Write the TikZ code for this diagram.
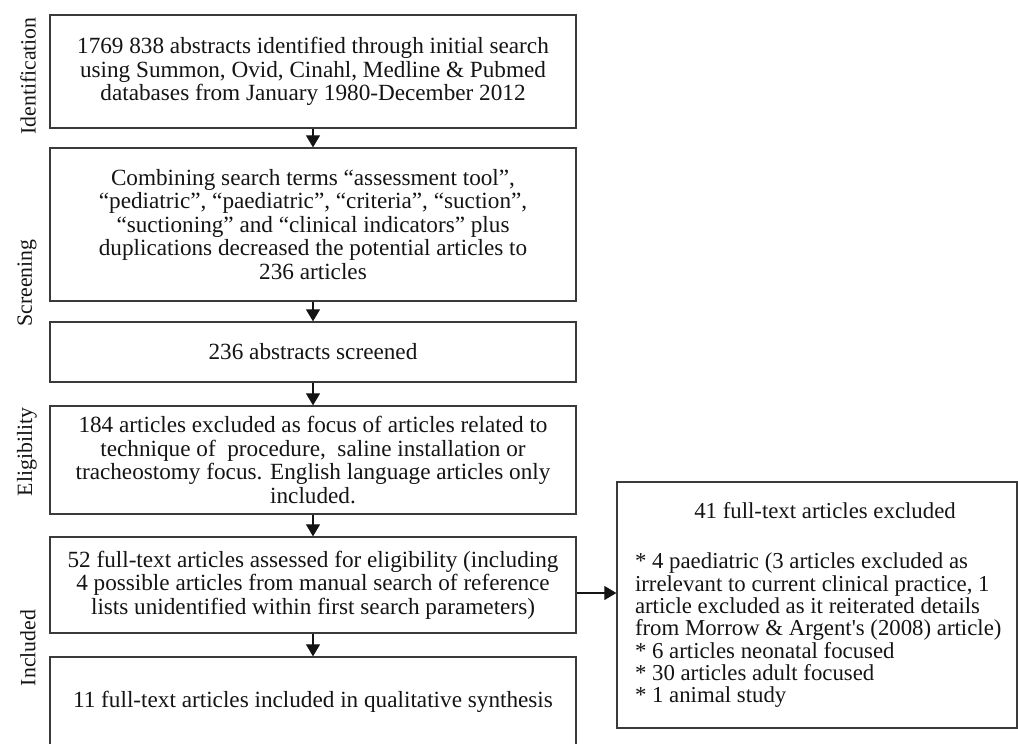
\documentclass[tikz,border=0pt]{standalone}
\usepackage{fontspec}
\setmainfont{Liberation Serif}
\usetikzlibrary{arrows.meta}
\definecolor{edge}{HTML}{3A3A3A}
\definecolor{ink}{HTML}{141414}
\begin{document}
\begin{tikzpicture}[x=1pt,y=-1pt,
  every node/.style={text=ink},
  flowbox/.style={draw=edge, line width=1.3pt, rectangle, minimum width=526pt,
    inner sep=0pt, align=center, font=\fontsize{23.2}{23.5}\selectfont},
  sidebox/.style={draw=edge, line width=1.3pt, rectangle, minimum width=400pt,
    minimum height=246pt, inner sep=0pt, font=\fontsize{22.8}{22.3}\selectfont},
  phase/.style={rotate=90, font=\fontsize{21.8}{22}\selectfont},
  arr/.style={draw=ink, line width=1.1pt, -{Triangle[width=14pt,length=12pt]}}]
\useasboundingbox (0,0) rectangle (1018,744);

% main column of stages
\node[flowbox, minimum height=113pt] (b1) at (313,71.5)
  {1769 838 abstracts identified through initial search\\
   using Summon, Ovid, Cinahl, Medline \& Pubmed\\
   databases from January 1980-December 2012};
\node[flowbox, minimum height=153pt] (b2) at (313,224.5)
  {Combining search terms “assessment tool”,\\
   “pediatric”, “paediatric”, “criteria”, “suction”,\\
   “suctioning” and “clinical indicators” plus\\
   duplications decreased the potential articles to\\
   236 articles};
\node[flowbox, minimum height=60pt] (b3) at (313,352)
  {236 abstracts screened};
\node[flowbox, minimum height=108pt] (b4) at (313,460)
  {184 articles excluded as focus of articles related to\\
   technique of~ procedure,~ saline installation or\\
   tracheostomy focus. English language articles only\\
   included.};
\node[flowbox, minimum height=96pt] (b5) at (313,585)
  {52 full-text articles assessed for eligibility (including\\
   4 possible articles from manual search of reference\\
   lists unidentified within first search parameters)};
\node[flowbox, minimum height=90pt] (b6) at (313,702)
  {11 full-text articles included in qualitative synthesis};

% exclusions
\node[sidebox] (excl) at (817,605)
  {\hspace*{16pt}\parbox{380pt}{\centering 41 full-text articles excluded\par
   \vspace{28pt}\raggedright
   {*} 4 paediatric (3 articles excluded as\\
   irrelevant to current clinical practice, 1\\
   article excluded as it reiterated details\\
   from Morrow \& Argent\textquotesingle s (2008) article)\\
   {*} 6 articles neonatal focused\\
   {*} 30 articles adult focused\\
   {*} 1 animal study}};

% phase labels
\node[phase] (pid) at (28,76) {Identification};
\node[phase] (psc) at (27,283) {Screening};
\node[phase] (pel) at (27,452) {Eligibility};
\node[phase] (pin) at (28,648) {Included};

% connectors
\draw[arr] (b1.south) -- (b2.north);
\draw[arr] (b2.south) -- (b3.north);
\draw[arr] (b3.south) -- (b4.north);
\draw[arr] (b4.south) -- (b5.north);
\draw[arr] (b5.south) -- (b6.north);
\draw[arr] ([yshift=-8pt]b5.east) -- ([yshift=-8pt]b5.east -| excl.west);
\end{tikzpicture}
\end{document}
